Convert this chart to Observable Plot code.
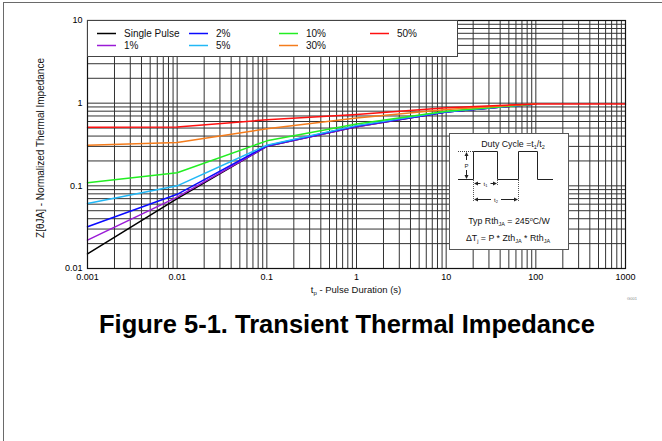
<!DOCTYPE html>
<html><head><meta charset="utf-8">
<script src="https://cdn.jsdelivr.net/npm/d3@7"></script>
<script src="https://cdn.jsdelivr.net/npm/@observablehq/plot@0.6"></script>
<style>
body{margin:0;background:#fff;font-family:Arial,"Liberation Sans",sans-serif;}
#wrap{position:relative;width:662px;height:441px;overflow:hidden;background:#fff;}
#wrap > *{position:absolute;}
</style></head><body><div id="wrap"></div>
<script>
// ---- data ----
const durations = [0.001, 0.01, 0.1, 1, 10, 100];
const singlePulse = [0.015, 0.070, 0.300, 0.52, 0.78, 0.98];
const duty1  = [0.022, 0.073, 0.300, 0.52, 0.78, 0.98];
const duty2  = [0.032, 0.079, 0.305, 0.53, 0.78, 0.98];
const duty5  = [0.061, 0.100, 0.310, 0.535, 0.79, 0.98];
const duty10 = [0.109, 0.144, 0.350, 0.56, 0.80, 0.98];
const duty30 = [0.310, 0.335, 0.490, 0.66, 0.84, 0.98];
const duty50Durations = [0.001, 0.01, 0.1, 1, 10, 100, 1000];
const duty50 = [0.51, 0.515, 0.63, 0.73, 0.88, 0.98, 0.98];

const seriesNames  = ["Single Pulse", "1%", "2%", "5%", "10%", "30%", "50%"];
const seriesColors = ["#000000", "#9a1bd6", "#0a0aff", "#22b8f6", "#22ee22", "#f47c1c", "#ff1010"];
const seriesValues = [singlePulse, duty1, duty2, duty5, duty10, duty30, duty50];
const seriesX      = [durations, durations, durations, durations, durations, durations, duty50Durations];

const xTicks = [0.001, 0.01, 0.1, 1, 10, 100, 1000];
const xTickLabels = ["0.001", "0.01", "0.1", "1", "10", "100", "1000"];
const yTicks = [0.01, 0.1, 1, 10];
const yTickLabels = ["0.01", "0.1", "1", "10"];

// ---- build table ----
const rows = [];
seriesNames.forEach((name, i) => {
  seriesValues[i].forEach((v, j) => rows.push({series: name, t: seriesX[i][j], z: v}));
});
function minorGrid(ticks) {
  const out = [];
  for (let k = 0; k < ticks.length - 1; k++) for (let m = 1; m <= 9; m++) out.push(ticks[k] * m);
  out.push(ticks[ticks.length - 1]);
  return out;
}
const xGrid = minorGrid(xTicks);
const yGrid = minorGrid(yTicks);

const font = "Arial, 'Liberation Sans', sans-serif";
const chart = Plot.plot({
  width: 662, height: 300,
  marginLeft: 87, marginRight: 37, marginTop: 20, marginBottom: 32,
  x: {type: "log", domain: [0.001, 1000]},
  y: {type: "log", domain: [0.01, 10]},
  color: {domain: seriesNames, range: seriesColors},
  style: {fontFamily: font, fontSize: "9px", color: "#000", background: "transparent"},
  marks: [
    Plot.ruleX(xGrid, {stroke: "#333", strokeWidth: 1}),
    Plot.ruleY(yGrid, {stroke: "#333", strokeWidth: 1}),
    Plot.line(rows, {x: "t", y: "z", z: "series", stroke: "series", strokeWidth: 1.5}),
    Plot.frame({stroke: "#111", strokeWidth: 1.2}),
    Plot.axisX(xTicks, {tickSize: 0, tickPadding: 5, label: null,
      tickFormat: d => xTickLabels[xTicks.indexOf(d)], fill: "#000"}),
    Plot.axisY(yTicks, {tickSize: 0, tickPadding: 5, label: null,
      tickFormat: d => yTickLabels[yTicks.indexOf(d)], fill: "#000"})
  ]
});
chart.style.left = "0px"; chart.style.top = "0px";
const wrap = document.getElementById("wrap");

// page border
const border = document.createElement("div");
border.style.cssText = "left:3px;top:2px;width:700px;height:500px;border-left:1px solid #6a6a6a;border-top:1px solid #6a6a6a;";
wrap.appendChild(border);
wrap.appendChild(chart);

// overlay for legend & inset
const ov = d3.create("svg").attr("width", 662).attr("height", 441)
  .style("left", "0px").style("top", "0px").style("font-family", font);

// legend
const lg = ov.append("g");
lg.append("rect").attr("x", 87.5).attr("y", 20.5).attr("width", 370).attr("height", 36)
  .attr("fill", "#fff").attr("stroke", "#444");
const colX = [97, 189, 279, 370], rowY = [33.5, 45.5];
seriesNames.forEach((name, i) => {
  const x0 = colX[Math.floor(i / 2)], y0 = rowY[i % 2];
  lg.append("line").attr("x1", x0).attr("x2", x0 + 19).attr("y1", y0).attr("y2", y0)
    .attr("stroke", seriesColors[i]).attr("stroke-width", 1.5);
  lg.append("text").attr("x", x0 + 27).attr("y", y0 + 3.5).attr("font-size", 10)
    .attr("fill", "#111").text(name);
});

// inset
const ins = ov.append("g");
ins.append("rect").attr("x", 449.5).attr("y", 133.5).attr("width", 119).attr("height", 116)
  .attr("fill", "#fff").attr("stroke", "#555");
const t1 = ins.append("text").attr("x", 513).attr("y", 147).attr("text-anchor", "middle")
  .attr("font-size", 8.8).attr("fill", "#111");
t1.append("tspan").text("Duty Cycle =t");
t1.append("tspan").attr("font-size", 5.5).attr("dy", 2).text("1");
t1.append("tspan").attr("dy", -2).text("/t");
t1.append("tspan").attr("font-size", 5.5).attr("dy", 2).text("2");
ins.append("path").attr("d", "M458,179.5H473.5V151.5H497.5V179.5H518.5V151.5H537.5V179.5H553")
  .attr("fill", "none").attr("stroke", "#222").attr("stroke-width", 1);
// P arrow
ins.append("line").attr("x1", 458).attr("x2", 473).attr("y1", 151.5).attr("y2", 151.5)
  .attr("stroke", "#444").attr("stroke-dasharray", "1,1");
ins.append("line").attr("x1", 466.5).attr("x2", 466.5).attr("y1", 153).attr("y2", 160).attr("stroke", "#222");
ins.append("line").attr("x1", 466.5).attr("x2", 466.5).attr("y1", 170).attr("y2", 178).attr("stroke", "#222");
ins.append("path").attr("d", "M466.5,152L464.5,156H468.5Z M466.5,179L464.5,175H468.5Z").attr("fill", "#222");
ins.append("text").attr("x", 466.5).attr("y", 167.5).attr("text-anchor", "middle").attr("font-size", 6).attr("fill", "#222").text("P");
// dotted verticals
[[473.5, 180, 201], [497.5, 180, 186], [518.5, 180, 201]].forEach(([x, a, b]) =>
  ins.append("line").attr("x1", x).attr("x2", x).attr("y1", a).attr("y2", b)
    .attr("stroke", "#555").attr("stroke-dasharray", "1,1"));
// t1 / t2 arrows
function hArrow(xa, xb, y, label) {
  const xm = (xa + xb) / 2;
  ins.append("line").attr("x1", xa + 1).attr("x2", xm - 5).attr("y1", y).attr("y2", y).attr("stroke", "#222");
  ins.append("line").attr("x1", xm + 5).attr("x2", xb - 1).attr("y1", y).attr("y2", y).attr("stroke", "#222");
  ins.append("path").attr("d", `M${xa},${y}L${xa + 4},${y - 2}V${y + 2}Z M${xb},${y}L${xb - 4},${y - 2}V${y + 2}Z`).attr("fill", "#222");
  const tx = ins.append("text").attr("x", xm).attr("y", y + 2).attr("text-anchor", "middle").attr("font-size", 6).attr("fill", "#222");
  tx.append("tspan").text("t");
  tx.append("tspan").attr("font-size", 4).attr("dy", 1).text(label);
}
hArrow(474, 497, 183.5, "1");
hArrow(474, 518, 199.5, "2");
const rt = ins.append("text").attr("x", 509).attr("y", 223.5).attr("text-anchor", "middle")
  .attr("font-size", 8.8).attr("fill", "#111");
rt.append("tspan").text("Typ Rth");
rt.append("tspan").attr("font-size", 5.5).attr("dy", 2).text("JA");
rt.append("tspan").attr("dy", -2).text(" = 245");
rt.append("tspan").attr("font-size", 5.5).attr("dy", -3).text("o");
rt.append("tspan").attr("dy", 3).text("C/W");
const dt = ins.append("text").attr("x", 508).attr("y", 241).attr("text-anchor", "middle")
  .attr("font-size", 8.8).attr("fill", "#111");
dt.append("tspan").text("ΔT");
dt.append("tspan").attr("font-size", 5.5).attr("dy", 2).text("j");
dt.append("tspan").attr("dy", -2).text(" = P * Zth");
dt.append("tspan").attr("font-size", 5.5).attr("dy", 2).text("JA");
dt.append("tspan").attr("dy", -2).text(" * Rth");
dt.append("tspan").attr("font-size", 5.5).attr("dy", 2).text("JA");

// axis titles
const xl = ov.append("text").attr("x", 356).attr("y", 293).attr("text-anchor", "middle")
  .attr("font-size", 9.5).attr("fill", "#111");
xl.append("tspan").text("t");
xl.append("tspan").attr("font-size", 6).attr("dy", 2).text("p");
xl.append("tspan").attr("dy", -2).text(" - Pulse Duration (s)");
ov.append("text").attr("transform", "translate(44,148) rotate(-90)").attr("text-anchor", "middle")
  .attr("font-size", 10).attr("fill", "#111").text("Z[θJA] - Normalized Thermal Impedance");
ov.append("text").attr("x", 632).attr("y", 300).attr("text-anchor", "middle")
  .attr("font-size", 4).attr("fill", "#888").text("G001");
ov.append("text").attr("x", 347).attr("y", 333).attr("text-anchor", "middle")
  .attr("font-size", 25.5).attr("font-weight", "bold").attr("fill", "#000")
  .text("Figure 5-1. Transient Thermal Impedance");
wrap.appendChild(ov.node());
</script></body></html>
